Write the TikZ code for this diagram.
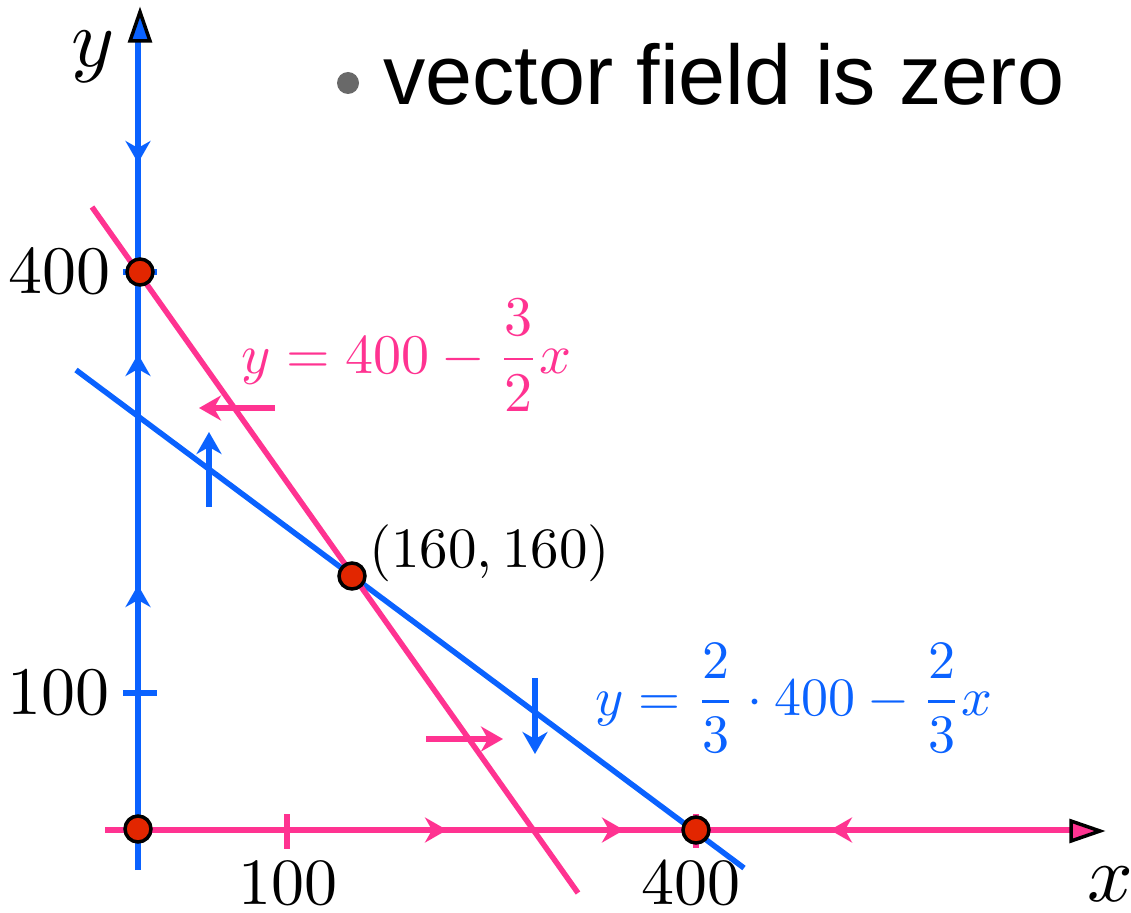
\documentclass[tikz,border=0pt]{standalone}
\usepackage{graphicx}
\usepackage{fontspec}
\newfontfamily\labelsans{Liberation Sans}
\usetikzlibrary{arrows.meta}
\definecolor{fblue}{RGB}{10,98,255}
\definecolor{fpink}{RGB}{255,51,145}
\definecolor{fred}{RGB}{226,38,0}
\definecolor{fgray}{RGB}{105,105,105}
\begin{document}
\begin{tikzpicture}[x=1pt,y=-1pt,
  bline/.style={fblue, line width=6pt},
  pline/.style={fpink, line width=6pt},
  sbline/.style={fblue, line width=5.5pt},
  spline/.style={fpink, line width=5.5pt},
  headtip/.style={-{Stealth[length=22pt 0 0,width=25pt 0 0,inset=7pt 0]}},
  dot/.style={circle, fill=fred, draw=black, line width=3.5pt, minimum size=26pt, inner sep=0pt},
  axlab/.style={inner sep=0pt, font=\normalsize},
  eqlab/.style={inner sep=0pt, anchor=base west, font=\normalsize},
]
\useasboundingbox (0,0) rectangle (1131,912);

% slanted lines
\draw[sbline, line cap=butt] (76,370) -- (744,868);
\draw[spline] (92,207) -- (578,893);

% axes
\draw[bline] (138,870) -- (138,40);
\draw[pline] (105,830) -- (1072,830);
\filldraw[fill=fblue, draw=black, line width=3.5pt, line join=miter] (130,41) -- (150,41) -- (140,12) -- cycle;
\filldraw[fill=fpink, draw=black, line width=3.5pt, line join=miter] (1071,821) -- (1071,841) -- (1100,831) -- cycle;

% ticks
\draw[sbline] (123,272) -- (157,272);
\draw[sbline] (123,693) -- (157,693);
\draw[spline] (287,814) -- (287,849);
\draw[spline] (696,814) -- (696,848);

% arrowheads on the axes
\draw[bline, headtip] (138,140) -- (138,163);
\draw[bline, headtip] (138,378) -- (138,354);
\draw[bline, headtip] (138,608) -- (138,585);
\draw[pline, headtip] (420,830) -- (447,830);
\draw[pline, headtip] (598,830) -- (624,830);
\draw[pline, headtip] (856,830) -- (830,830);

% short field arrows
\draw[sbline, headtip] (209,507) -- (209,432);
\draw[sbline, headtip] (535,678) -- (535,754);
\draw[pline, headtip] (275,408) -- (199,408);
\draw[pline, headtip] (426,739) -- (503,739);

% equilibrium points
\node[dot] (p0) at (138,829) {};
\node[dot] (px) at (696,830) {};
\node[dot] (py) at (140,272) {};
\node[dot] (pc) at (352,576) {};

% axis labels
\node[axlab] (ly400) at (60,272) {\scalebox{6.8}{$400$}};
\node[axlab] (ly100) at (59,693) {\scalebox{6.8}{$100$}};
\node[axlab] (lx100) at (288,883) {\scalebox{6.6}{$100$}};
\node[axlab] (lx400) at (691,883) {\scalebox{6.6}{$400$}};
\node[axlab] (ly) at (93,57) {\scalebox{8.2}{$y$}};
\node[axlab] (lx) at (1110,884) {\scalebox{8}{$x$}};

% equations
\node[eqlab, text=fpink] (eqp) at (241,373) {\scalebox{5.6}{$y=400-\displaystyle\frac{3}{2}x$}};
\node[eqlab, text=fblue] (eqb) at (595,715) {\scalebox{5.4}{$y=\displaystyle\frac{2}{3}\cdot 400-\frac{2}{3}x$}};
\node[eqlab] (lc) at (369,567) {\scalebox{5.7}{$(160,160)$}};

% legend
\fill[fgray] (348,83) circle (11);
\node[eqlab, font=\labelsans] (leg) at (383,105) {\scalebox{8.45}{vector field is zero}};
\end{tikzpicture}
\end{document}
